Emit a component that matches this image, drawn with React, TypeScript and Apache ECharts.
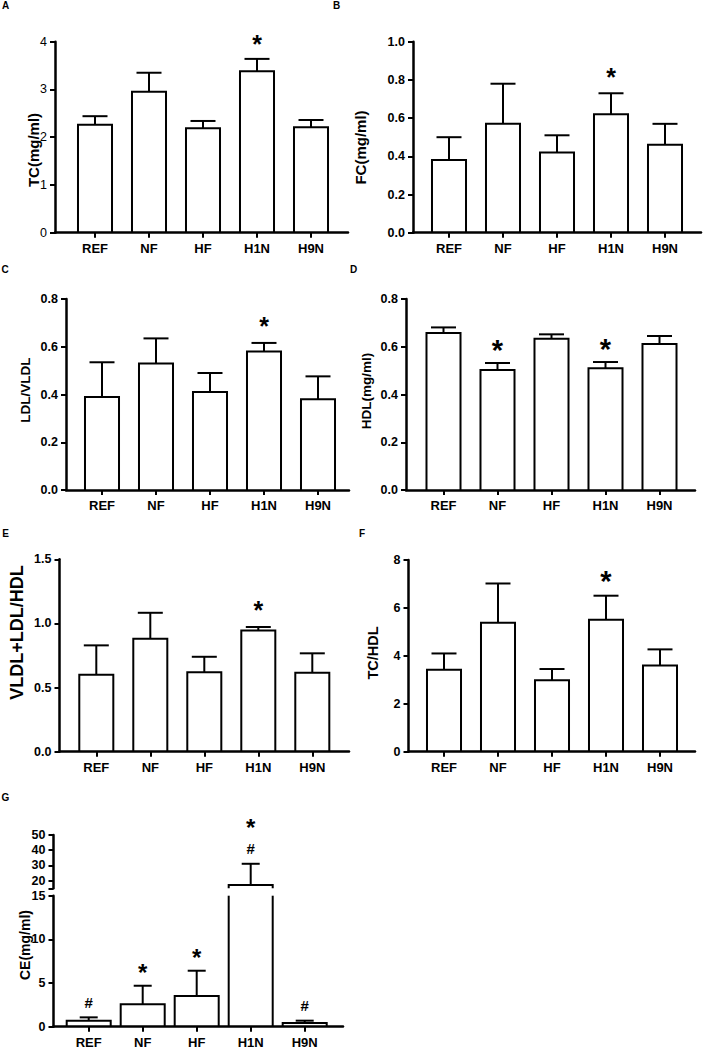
import React, { useEffect, useRef } from "react";
import * as echarts from "echarts";

// ---------------- data ----------------
const categories = ["REF", "NF", "HF", "H1N", "H9N"];

// A: TC (mg/ml)
const tcMean = [2.26, 2.95, 2.19, 3.38, 2.21];
const tcErr = [0.18, 0.4, 0.15, 0.26, 0.15];
const tcSig = [[], [], [], ["*"], []];
const tcTicks = ["0", "1", "2", "3", "4"];

// B: FC (mg/ml)
const fcMean = [0.38, 0.57, 0.42, 0.62, 0.46];
const fcErr = [0.12, 0.21, 0.09, 0.11, 0.11];
const fcSig = [[], [], [], ["*"], []];
const fcTicks = ["0.0", "0.2", "0.4", "0.6", "0.8", "1.0"];

// C: LDL/VLDL
const ldlMean = [0.39, 0.53, 0.41, 0.58, 0.38];
const ldlErr = [0.145, 0.105, 0.08, 0.036, 0.096];
const ldlSig = [[], [], [], ["*"], []];
const ldlTicks = ["0.0", "0.2", "0.4", "0.6", "0.8"];

// D: HDL (mg/ml)
const hdlMean = [0.658, 0.503, 0.634, 0.51, 0.612];
const hdlErr = [0.023, 0.029, 0.018, 0.026, 0.033];
const hdlSig = [[], ["*"], [], ["*"], []];
const hdlTicks = ["0.0", "0.2", "0.4", "0.6", "0.8"];

// E: VLDL+LDL/HDL
const ratioMean = [0.6, 0.88, 0.62, 0.944, 0.616];
const ratioErr = [0.229, 0.203, 0.12, 0.028, 0.151];
const ratioSig = [[], [], [], ["*"], []];
const ratioTicks = ["0.0", "0.5", "1.0", "1.5"];

// F: TC/HDL
const tchdlMean = [3.42, 5.38, 2.98, 5.51, 3.6];
const tchdlErr = [0.68, 1.64, 0.47, 1.0, 0.67];
const tchdlSig = [[], [], [], ["*"], []];
const tchdlTicks = ["0", "2", "4", "6", "8"];

// G: CE (mg/ml), broken axis
const ceMean = [0.69, 2.56, 3.51, 17.2, 0.42];
const ceErr = [0.38, 2.13, 2.9, 13.9, 0.27];
const ceSig = [["#"], ["*"], ["*"], ["#", "*"], ["#"]];
const ceLowTicks = ["0", "5", "10", "15"];
const ceHighTicks = ["20", "30", "40", "50"];
const ceBreak = 15;
const ceTop = 50;

// ---------------- layout ----------------
const FONT = "'Liberation Sans', Arial, Helvetica, sans-serif";
const STEP = 54;

type Seg = {
  min: number;
  max: number;
  top: number;
  bottom: number;
  ticks: string[];
  extraTicks?: number[];
  showX: boolean;
  lowest: boolean;
};

type Panel = {
  letter: string;
  letterX: number;
  letterY: number;
  title: string;
  titleX: number;
  titleY: number;
  titleSize: number;
  mean: number[];
  err: number[];
  sig: string[][];
  axisX: number;
  firstX: number;
  endX: number;
  segs: Seg[];
  tickBold: boolean;
  barFrac: number;
  capW: number;
  starSize: number;
  starGap: number;
};

const panels: Panel[] = [
  {
    letter: "A", letterX: 5.5, letterY: 5.5,
    title: "TC(mg/ml)", titleX: 33, titleY: 150, titleSize: 15,
    mean: tcMean, err: tcErr, sig: tcSig,
    axisX: 55, firstX: 95, endX: 348,
    segs: [{ min: 0, max: 4, top: 41.7, bottom: 232.7, ticks: tcTicks, showX: true, lowest: true }],
    tickBold: false, barFrac: 0.63, capW: 25, starSize: 25, starGap: 22,
  },
  {
    letter: "B", letterX: 336.5, letterY: 5.5,
    title: "FC(mg/ml)", titleX: 360, titleY: 147.5, titleSize: 15,
    mean: fcMean, err: fcErr, sig: fcSig,
    axisX: 413, firstX: 449, endX: 701,
    segs: [{ min: 0, max: 1, top: 41.7, bottom: 232.7, ticks: fcTicks, showX: true, lowest: true }],
    tickBold: true, barFrac: 0.63, capW: 25, starSize: 25, starGap: 23,
  },
  {
    letter: "C", letterX: 5, letterY: 269,
    title: "LDL/VLDL", titleX: 25, titleY: 390, titleSize: 13.5,
    mean: ldlMean, err: ldlErr, sig: ldlSig,
    axisX: 66, firstX: 102, endX: 349,
    segs: [{ min: 0, max: 0.8, top: 299, bottom: 490, ticks: ldlTicks, showX: true, lowest: true }],
    tickBold: true, barFrac: 0.63, capW: 25, starSize: 25, starGap: 24,
  },
  {
    letter: "D", letterX: 353.5, letterY: 269,
    title: "HDL(mg/ml)", titleX: 366, titleY: 391, titleSize: 13.5,
    mean: hdlMean, err: hdlErr, sig: hdlSig,
    axisX: 406, firstX: 443.5, endX: 695,
    segs: [{ min: 0, max: 0.8, top: 299, bottom: 490, ticks: hdlTicks, showX: true, lowest: true }],
    tickBold: true, barFrac: 0.63, capW: 25, starSize: 29, starGap: 21,
  },
  {
    letter: "E", letterX: 5.5, letterY: 533,
    title: "VLDL+LDL/HDL", titleX: 17, titleY: 632.5, titleSize: 18,
    mean: ratioMean, err: ratioErr, sig: ratioSig,
    axisX: 59.5, firstX: 96.3, endX: 349,
    segs: [{ min: 0, max: 1.5, top: 559.3, bottom: 751.7, ticks: ratioTicks, showX: true, lowest: true }],
    tickBold: true, barFrac: 0.63, capW: 25, starSize: 25, starGap: 24,
  },
  {
    letter: "F", letterX: 362, letterY: 533,
    title: "TC/HDL", titleX: 373, titleY: 653, titleSize: 14.5,
    mean: tchdlMean, err: tchdlErr, sig: tchdlSig,
    axisX: 408.5, firstX: 444, endX: 695,
    segs: [{ min: 0, max: 8, top: 560, bottom: 751.7, ticks: tchdlTicks, showX: true, lowest: true }],
    tickBold: true, barFrac: 0.63, capW: 25, starSize: 29, starGap: 23,
  },
  {
    letter: "G", letterX: 5.5, letterY: 797,
    title: "CE(mg/ml)", titleX: 25, titleY: 945, titleSize: 14,
    mean: ceMean, err: ceErr, sig: ceSig,
    axisX: 53.5, firstX: 88.7, endX: 343,
    segs: [
      { min: 0, max: ceBreak, top: 895.7, bottom: 1026.7, ticks: ceLowTicks, showX: true, lowest: true },
      { min: ceBreak, max: ceTop, top: 835, bottom: 888.3, ticks: ceHighTicks, extraTicks: [ceBreak], showX: false, lowest: false },
    ],
    tickBold: true, barFrac: 0.815, capW: 18, starSize: 24, starGap: 20,
  },
];

// ---------------- rendering ----------------
function makeRender(p: Panel, s: Seg) {
  return (params: any, api: any) => {
    const i = api.value(0);
    const m = api.value(1);
    const e = api.value(2);
    const step = api.size([1, 0])[0];
    const bw = step * p.barFrac;
    const cx = api.coord([i, 0])[0];
    const yOf = (v: number) => api.coord([i, v])[1];
    const ls = { stroke: "#000", lineWidth: 2, fill: null, lineJoin: "miter" };
    const ch: any[] = [];
    const l = cx - bw / 2;
    const r = cx + bw / 2;
    if (m > s.min) {
      const yb = yOf(Math.max(0, s.min));
      const yt = yOf(Math.min(m, s.max));
      if (m <= s.max) {
        ch.push({ type: "polyline", shape: { points: [[l, yb], [l, yt], [r, yt], [r, yb]] }, style: ls });
      } else {
        ch.push({ type: "line", shape: { x1: l, y1: yb, x2: l, y2: yt }, style: ls });
        ch.push({ type: "line", shape: { x1: r, y1: yb, x2: r, y2: yt }, style: ls });
      }
    }
    const top = m + e;
    if (top > s.min && m < s.max) {
      const y1 = yOf(Math.max(m, s.min));
      const y2 = yOf(Math.min(top, s.max));
      ch.push({ type: "line", shape: { x1: cx, y1, x2: cx, y2 }, style: ls });
      if (top <= s.max) {
        ch.push({ type: "line", shape: { x1: cx - p.capW / 2, y1: y2, x2: cx + p.capW / 2, y2 }, style: ls });
      }
    }
    const inSeg = (s.lowest ? top >= s.min : top > s.min) && top <= s.max;
    const syms = p.sig[i] || [];
    if (inSeg && syms.length) {
      const yTop = yOf(top);
      let yc = yTop;
      syms.forEach((sym, k) => {
        if (k === 0) yc = yTop - (sym === "#" ? 15 : p.starGap);
        else yc = yc - 28;
        const fs = sym === "#" ? 15 : p.starSize;
        const y = sym === "#" ? yc : yc + 0.28 * fs;
        ch.push({
          type: "text",
          style: {
            text: sym, x: cx, y, align: "center", verticalAlign: "middle",
            fontFamily: FONT, fontWeight: "bold", fontSize: fs, fill: "#000",
          },
        });
      });
    }
    return { type: "group", children: ch };
  };
}

function buildOption() {
  const grid: any[] = [];
  const xAxis: any[] = [];
  const yAxis: any[] = [];
  const series: any[] = [];
  const graphic: any[] = [];
  const catIdx = categories.map((_, i) => i);
  const axisLineStyle = { color: "#000", width: 2.5 };

  panels.forEach((p) => {
    graphic.push({
      type: "text", x: p.letterX, y: p.letterY,
      style: { text: p.letter, align: "center", verticalAlign: "middle", fontFamily: FONT, fontWeight: "bold", fontSize: 10, fill: "#000" },
    });
    graphic.push({
      type: "text", x: p.titleX, y: p.titleY, rotation: Math.PI / 2,
      style: { text: p.title, align: "center", verticalAlign: "middle", fontFamily: FONT, fontWeight: "bold", fontSize: p.titleSize, fill: "#000" },
    });

    p.segs.forEach((s) => {
      const gi = grid.length;
      grid.push({
        left: p.axisX, top: s.top, width: p.endX - p.axisX, height: s.bottom - s.top,
        containLabel: false, outerBoundsMode: "none",
      });
      xAxis.push({
        type: "value", gridIndex: gi, show: s.showX,
        min: (p.axisX - p.firstX) / STEP, max: (p.endX - p.firstX) / STEP,
        axisLine: { show: true, onZero: false, lineStyle: axisLineStyle },
        axisTick: { show: true, customValues: catIdx, length: 5, lineStyle: { color: "#000", width: 2 } },
        axisLabel: {
          show: true, customValues: catIdx, margin: 9,
          formatter: (v: number) => categories[Math.round(v)] ?? "",
          fontFamily: FONT, fontWeight: "bold", fontSize: 13, color: "#000",
        },
        splitLine: { show: false },
      });
      const tickVals = s.ticks.map(Number);
      yAxis.push({
        type: "value", gridIndex: gi, min: s.min, max: s.max,
        axisLine: { show: true, onZero: false, lineStyle: axisLineStyle },
        axisTick: { show: true, customValues: [...(s.extraTicks || []), ...tickVals], length: 5, lineStyle: { color: "#000", width: 2 } },
        axisLabel: {
          show: true, customValues: tickVals, margin: 8,
          formatter: (v: number) => s.ticks.find((t) => Math.abs(Number(t) - v) < 1e-9) ?? "",
          fontFamily: FONT, fontWeight: p.tickBold ? "bold" : "normal", fontSize: 12.5, color: "#000",
        },
        splitLine: { show: false },
      });
      series.push({
        type: "custom", xAxisIndex: gi, yAxisIndex: gi, silent: true, z: 3,
        data: p.mean.map((m, k) => [k, m, p.err[k]]),
        renderItem: makeRender(p, s),
      });
    });
  });

  return {
    animation: false,
    backgroundColor: "#fff",
    textStyle: { fontFamily: FONT },
    grid, xAxis, yAxis, series, graphic,
  };
}

export default function App() {
  const ref = useRef<HTMLDivElement>(null);
  useEffect(() => {
    const chart = echarts.init(ref.current as HTMLDivElement, null, { renderer: "svg" });
    chart.setOption(buildOption() as any);
    return () => chart.dispose();
  }, []);
  return (
    <div
      ref={ref}
      style={{ position: "absolute", left: 0, top: 0, width: 705, height: 1050, background: "#fff" }}
    />
  );
}
